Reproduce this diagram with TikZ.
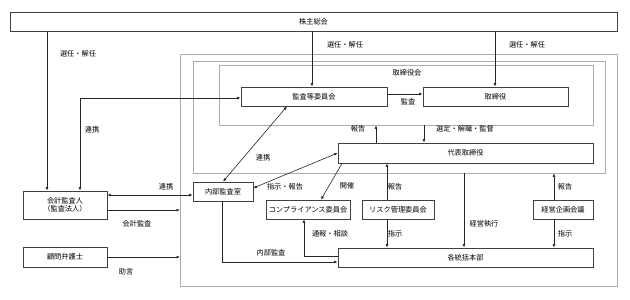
\documentclass[tikz,border=0pt]{standalone}
\usepackage{fontspec}
\setmainfont{Noto Sans CJK JP}
\usetikzlibrary{arrows.meta}
\definecolor{boxc}{gray}{0.25}
\definecolor{grpc}{gray}{0.68}
\definecolor{linec}{gray}{0.15}
\begin{document}
\begin{tikzpicture}[x=1pt,y=-1pt,
  font=\fontsize{7.2}{8.6}\selectfont,
  box/.style={draw=boxc, line width=0.7pt, fill=white, inner sep=0pt, minimum height=19pt},
  grp/.style={draw=grpc, line width=0.7pt, inner sep=0pt},
  arr/.style={-{Latex[length=3.5pt,width=2.8pt]}, line width=0.6pt, draw=linec},
  arrb/.style={{Latex[length=3.5pt,width=2.8pt]}-{Latex[length=3.5pt,width=2.8pt]}, line width=0.6pt, draw=linec},
  ln/.style={line width=0.6pt, draw=linec},
  lbl/.style={inner sep=0pt}]
\useasboundingbox (0,0) rectangle (630,300);
% groups
\node[grp, minimum width=437pt, minimum height=232pt] (outer) at (398.5,170) {};
\node[grp, minimum width=412pt, minimum height=112pt] (mid) at (399,117) {};
\node[grp, minimum width=374pt, minimum height=60pt] (torikai) at (406,95) {};
\node[lbl] (torikailbl) at (407,73) {取締役会};
% boxes
\node[box, minimum width=607pt] (soukai) at (313.5,21.5) {株主総会};
\node[box, minimum width=146pt] (kansa) at (314,96.5) {監査等委員会};
\node[box, minimum width=145pt] (tori) at (495.5,96.5) {取締役};
\node[box, minimum width=255pt, minimum height=20pt] (daihyo) at (465.5,153) {代表取締役};
\node[box, minimum width=60pt] (naibu) at (223,191.5) {内部監査室};
\node[box, minimum width=84pt] (comp) at (308,209.5) {コンプライアンス委員会};
\node[box, minimum width=72pt] (risk) at (398,209.5) {リスク管理委員会};
\node[box, minimum width=60pt] (keiei) at (563,209.5) {経営企画会議};
\node[box, minimum width=255pt] (kaku) at (465.5,257.5) {各統括本部};
\node[box, minimum width=84pt, minimum height=28pt, align=center] (kaikei) at (65,205) {会計監査人\\（監査法人）};
\node[box, minimum width=84pt, minimum height=20pt] (bengo) at (65,257) {顧問弁護士};
% free ends on the outer frame
\coordinate (oA) at (180,210);
\coordinate (oB) at (180,257);
% connectors
\draw[arr] (soukai.south -| 47,0) -- (kaikei.north -| 47,0);
\draw[arrb] (kaikei.north -| 80,0) |- (kansa.west |- 0,98);
\draw[arr] (soukai.south -| 312,0) -- (kansa.north -| 312,0);
\draw[arr] (soukai.south -| 495,0) -- (tori.north -| 495,0);
\draw[arr] (kansa.east |- 0,94) -- (tori.west |- 0,94);
\draw[arrb] (naibu.north) -- (kansa.south -| 287,0);
\draw[arrb] (naibu.east |- 0,188) -- (daihyo.west);
\draw[arrb] (kaikei.east |- 0,195) -- (naibu.west |- 0,195);
\draw[arr] (kaikei.east |- oA) -- (oA);
\draw[arr] (bengo.east |- oB) -- (oB);
\draw[arr] (daihyo.north -| 376,0) -- (torikai.south -| 376,0);
\draw[arr] (torikai.south -| 424,0) -- (daihyo.north -| 424,0);
\draw[arr] (daihyo.south -| 342,0) -- (comp.north -| 321,0);
\draw[arr] (risk.north -| 387,0) -- (daihyo.south -| 387,0);
\draw[arr] (risk.south -| 387,0) -- (kaku.north -| 387,0);
\draw[arr] (mid.south -| 464,0) -- (kaku.north -| 464,0);
\draw[arr] (keiei.north -| 554,0) -- (mid.south -| 554,0);
\draw[arr] (keiei.south -| 554,0) -- (kaku.north -| 554,0);
\draw[arr] (kaku.west |- 0,256) -| (comp.south -| 304,0);
\draw[arr] (naibu.south -| 222,0) |- (kaku.west |- 0,262);
% labels
\node[lbl] (l1) at (78,54) {選任・解任};
\node[lbl] (l2) at (345,45) {選任・解任};
\node[lbl] (l3) at (527,45) {選任・解任};
\node[lbl] (l4) at (408,102) {監査};
\node[lbl] (l5) at (92,130) {連携};
\node[lbl] (l6) at (263,158) {連携};
\node[lbl] (l7) at (166,187) {連携};
\node[lbl] (l8) at (137,224) {会計監査};
\node[lbl] (l9) at (126,272) {助言};
\node[lbl] (l10) at (358,129) {報告};
\node[lbl] (l11) at (465,129) {選定・解職・監督};
\node[lbl] (l12) at (285,187) {指示・報告};
\node[lbl] (l13) at (347,186) {開催};
\node[lbl] (l14) at (395,187) {報告};
\node[lbl] (l15) at (395,234) {指示};
\node[lbl] (l16) at (484,224) {経営執行};
\node[lbl] (l17) at (565,187) {報告};
\node[lbl] (l18) at (565,234) {指示};
\node[lbl] (l19) at (330,234) {通報・相談};
\node[lbl] (l20) at (271,253) {内部監査};
\end{tikzpicture}
\end{document}
